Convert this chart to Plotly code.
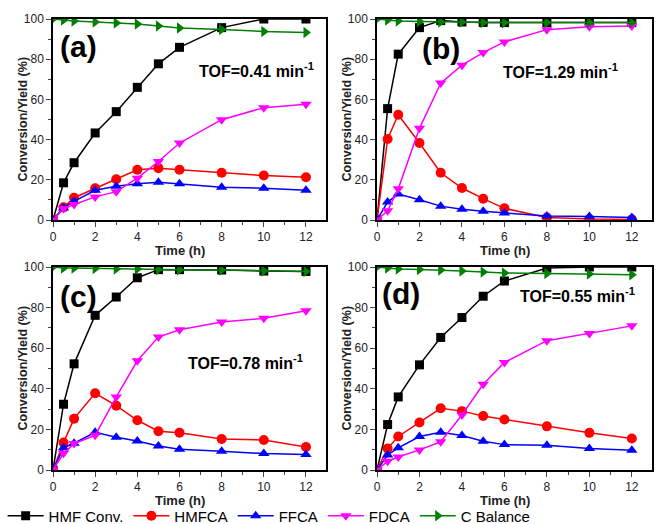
import plotly.graph_objects as go

time = [0, 0.5, 1, 2, 3, 4, 5, 6, 8, 10, 12]

# panel (a)
a_hmf = [0, 18.5, 28.5, 43.3, 53.9, 66.0, 77.7, 85.9, 95.7, 100, 100]
a_hmfca = [0, 6.3, 11.1, 15.8, 20.3, 25.0, 25.8, 25.0, 23.5, 22.1, 21.3]
a_ffca = [0, 6.0, 9.3, 14.8, 16.8, 18.0, 18.8, 18.0, 16.3, 15.8, 14.8]
a_fdca = [0, 5.7, 7.7, 11.5, 14.1, 20.8, 29.1, 38.3, 49.9, 55.9, 57.6]
a_cbal = [100, 99.5, 99.0, 98.5, 98.0, 97.5, 96.5, 95.5, 94.8, 93.8, 93.3]

# panel (b)
b_hmf = [0, 55.4, 82.5, 95.7, 99.2, 98.5, 98.3, 98.2, 98.2, 98.2, 98.2]
b_hmfca = [0, 40.3, 52.4, 38.3, 23.5, 15.9, 10.6, 5.8, 1.2, 0.5, 0.3]
b_ffca = [0, 8.9, 12.9, 10.1, 6.9, 5.3, 4.3, 3.5, 2.0, 1.7, 1.2]
b_fdca = [0, 4.6, 15.5, 45.6, 68.1, 77.0, 83.3, 88.6, 94.7, 96.2, 96.5]
b_cbal = [100, 99.5, 99.0, 98.8, 98.5, 98.5, 98.3, 98.2, 98.2, 98.2, 98.2]

# panel (c)
c_hmf = [0, 32.4, 52.3, 76.2, 85.2, 94.7, 98.7, 98.7, 98.5, 98.0, 97.8]
c_hmfca = [0, 13.5, 25.3, 37.8, 31.7, 24.5, 19.1, 18.4, 15.3, 14.8, 11.3]
c_ffca = [0, 10.9, 13.2, 18.6, 16.1, 14.3, 11.8, 10.2, 9.2, 8.1, 7.6]
c_fdca = [0, 8.2, 13.0, 17.1, 36.0, 53.8, 65.5, 69.1, 72.9, 74.7, 78.5]
c_cbal = [100, 99.5, 99.5, 99.3, 99.0, 99.0, 98.8, 98.7, 98.5, 98.0, 97.8]

# panel (d)
d_hmf = [0, 22.4, 36.0, 51.8, 65.3, 75.1, 85.6, 93.1, 99.5, 100, 100]
d_hmfca = [0, 10.6, 16.5, 23.4, 30.4, 29.0, 26.6, 24.9, 21.5, 18.3, 15.5]
d_ffca = [0, 7.4, 10.9, 16.5, 18.6, 17.0, 14.2, 12.5, 12.2, 10.6, 9.7]
d_fdca = [0, 4.3, 6.4, 9.9, 13.9, 27.1, 42.2, 53.0, 63.7, 67.3, 71.0]
d_cbal = [100, 99.5, 99.0, 98.8, 98.5, 98.0, 97.5, 97.0, 96.8, 96.5, 96.2]

series_names = ["HMF Conv.", "HMFCA", "FFCA", "FDCA", "C Balance"]
panel_labels = ["(a)", "(b)", "(c)", "(d)"]
tof_labels = ["TOF=0.41 min<sup>-1</sup>", "TOF=1.29 min<sup>-1</sup>",
              "TOF=0.78 min<sup>-1</sup>", "TOF=0.55 min<sup>-1</sup>"]
x_ticks = [0, 2, 4, 6, 8, 10, 12]
y_ticks = [0, 20, 40, 60, 80, 100]

panels = [
    [a_hmf, a_hmfca, a_ffca, a_fdca, a_cbal],
    [b_hmf, b_hmfca, b_ffca, b_fdca, b_cbal],
    [c_hmf, c_hmfca, c_ffca, c_fdca, c_cbal],
    [d_hmf, d_hmfca, d_ffca, d_fdca, d_cbal],
]

colors = ["#000000", "#FF0000", "#0000FF", "#FF00FF", "#008000"]
symbols = ["square", "circle", "triangle-up", "triangle-down", "triangle-right"]
msizes = [9, 10, 10, 10, 10]

W, H = 656, 524
FONT = "Liberation Sans, Arial, sans-serif"

# pixel geometry of the four plot areas: (x0, x1, ytop, ybottom)
boxes = [(53, 326, 19, 220), (377, 652, 19, 220),
         (53, 326, 267, 470), (377, 652, 267, 470)]

fig = go.Figure()
layout = {}
annotations = []
for i, (series, box) in enumerate(zip(panels, boxes)):
    xa = "x" if i == 0 else f"x{i+1}"
    ya = "y" if i == 0 else f"y{i+1}"
    for j, vals in enumerate(series):
        fig.add_trace(go.Scatter(
            x=time, y=vals, name=series_names[j], xaxis=xa, yaxis=ya,
            mode="lines+markers",
            line=dict(color=colors[j], width=1.5),
            marker=dict(symbol=symbols[j], size=msizes[j], color=colors[j],
                        line=dict(width=0)),
            showlegend=(i == 0), legendgroup=series_names[j],
            cliponaxis=True,
        ))
    x0, x1, yt, yb = box
    xkey = "xaxis" if i == 0 else f"xaxis{i+1}"
    ykey = "yaxis" if i == 0 else f"yaxis{i+1}"
    layout[xkey] = dict(
        domain=[x0 / W, x1 / W], anchor=ya, range=[0, 12.95],
        tickvals=x_ticks, ticks="outside", ticklen=5, tickwidth=1.2,
        showline=True, linecolor="black", linewidth=1.5, mirror=True,
        showgrid=False, zeroline=False, automargin=False,
        tickfont=dict(family=FONT, size=12, color="#222"),
        minor=dict(dtick=1, tick0=0, ticks="outside", ticklen=3, tickwidth=1),
    )
    layout[ykey] = dict(
        domain=[1 - yb / H, 1 - yt / H], anchor=xa, range=[0, 100],
        tickvals=y_ticks, ticks="outside", ticklen=5, tickwidth=1.2,
        showline=True, linecolor="black", linewidth=1.5, mirror=True,
        showgrid=False, zeroline=False, automargin=False,
        tickfont=dict(family=FONT, size=12, color="#222"),
        minor=dict(dtick=10, tick0=0, ticks="outside", ticklen=3, tickwidth=1),
    )
    # axis titles as annotations
    annotations.append(dict(
        x=(x0 + x1 - 20) / 2 / W, y=1 - (yb + 30) / H, xref="paper", yref="paper",
        text="<b>Time (h)</b>", showarrow=False,
        font=dict(family=FONT, size=13, color="#222"),
        xanchor="center", yanchor="middle"))
    annotations.append(dict(
        x=(x0 - 31) / W, y=1 - (yt + yb) / 2 / H, xref="paper", yref="paper",
        text="<b>Conversion/Yield (%)</b>", showarrow=False, textangle=-90,
        font=dict(family=FONT, size=12.5, color="#222"),
        xanchor="center", yanchor="middle"))

label_pos = [(78, 47), (441, 48), (78, 296), (401, 293)]
tof_pos = [(256, 70), (560, 71), (245, 362), (577, 295)]
for lab, (px, py) in zip(panel_labels, label_pos):
    annotations.append(dict(
        x=px / W, y=1 - py / H, xref="paper", yref="paper", text=f"<b>{lab}</b>",
        showarrow=False, font=dict(family=FONT, size=30, color="black"),
        xanchor="center", yanchor="middle"))
for lab, (px, py) in zip(tof_labels, tof_pos):
    annotations.append(dict(
        x=px / W, y=1 - py / H, xref="paper", yref="paper", text=f"<b>{lab}</b>",
        showarrow=False, font=dict(family=FONT, size=16, color="black"),
        xanchor="center", yanchor="middle"))

fig.update_layout(
    **layout,
    width=W, height=H,
    margin=dict(l=0, r=0, t=0, b=0, autoexpand=False),
    paper_bgcolor="white", plot_bgcolor="white",
    annotations=annotations,
    legend=dict(orientation="h", x=0.004, y=1 - 516 / H, xanchor="left",
                yanchor="middle", font=dict(family=FONT, size=15, color="black"),
                bgcolor="rgba(0,0,0,0)", itemwidth=36, tracegroupgap=0),
)

fig.write_html("out.html")
